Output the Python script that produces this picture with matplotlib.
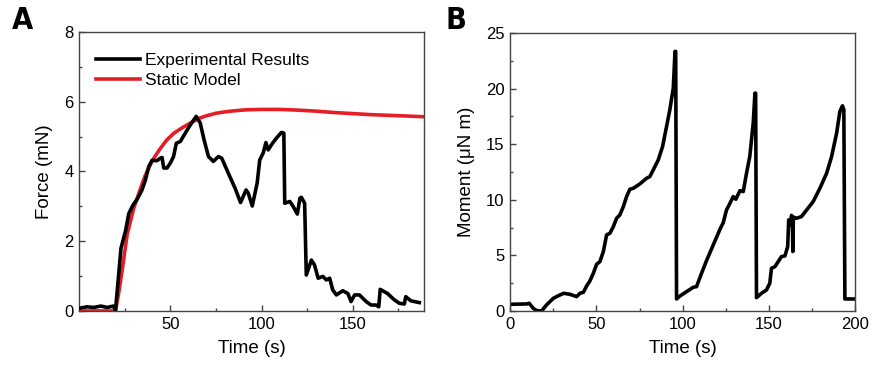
import matplotlib
matplotlib.use("Agg")
import matplotlib.pyplot as plt
from matplotlib.ticker import MultipleLocator, FixedLocator

plt.rcParams['font.family'] = ['Liberation Sans', 'DejaVu Sans']

# ---- Panel A data ----
exp_t = [0.4, 4.5, 8, 12, 15.5, 18.7, 20, 23, 25.5, 27.3, 29.6, 31.8, 34.5, 36.4, 38.2,
         40, 42.7, 44.5, 45.5, 46.4, 48.2, 50, 51.8, 53.3, 55.5, 58.2, 61, 64.2, 66.4,
         68.5, 70.9, 73.6, 76.4, 78.2, 81.8, 85.5, 88.5, 91.5, 92.7, 94.9, 97.6, 99,
         100.9, 102.4, 103.6, 106, 108.2, 110.9, 112.2, 112.7, 115.5, 117.3, 119.6, 121,
         121.8, 123.6, 124.5, 127.3, 129, 131, 133.6, 135.5, 137.3, 139, 141, 144.5,
         147.3, 149, 151, 153.6, 157.3, 160, 162.7, 164.2, 165, 169, 172.7, 175.5, 178.2,
         179, 181.8, 186.4]
exp_f = [0.08, 0.12, 0.1, 0.14, 0.1, 0.14, 0.03, 1.8, 2.3, 2.8, 3.04, 3.2, 3.47, 3.76, 4.14,
         4.32, 4.31, 4.38, 4.4, 4.1, 4.1, 4.24, 4.43, 4.81, 4.86, 5.1, 5.34, 5.58, 5.39,
         4.91, 4.43, 4.29, 4.43, 4.38, 3.95, 3.52, 3.11, 3.47, 3.38, 3.01, 3.67, 4.33,
         4.53, 4.83, 4.62, 4.81, 4.96, 5.12, 5.1, 3.09, 3.14, 3.0, 2.78, 3.23,
         3.26, 3.09, 1.03, 1.46, 1.32, 0.94, 0.99, 0.89, 0.94, 0.6, 0.46, 0.58,
         0.5, 0.27, 0.46, 0.46, 0.27, 0.17, 0.17, 0.12, 0.62, 0.5, 0.32, 0.22, 0.2,
         0.41, 0.29, 0.24]

model_t = [0, 20, 22, 24, 26.4, 30, 33.6, 36, 40, 44, 48, 52, 57, 62, 66, 70, 75, 80, 85,
           92, 100, 110, 120, 130, 140, 150, 160, 170, 180, 189]
model_f = [0, 0, 0.6, 1.3, 2.2, 2.95, 3.5, 3.85, 4.3, 4.62, 4.9, 5.1, 5.27, 5.42, 5.53, 5.6,
           5.67, 5.71, 5.74, 5.77, 5.78, 5.78, 5.76, 5.73, 5.69, 5.66, 5.63, 5.61, 5.59, 5.57]

# ---- Panel B data ----
mom_t = [0.4, 9.5, 11, 13.3, 15.3, 18.2, 21, 25, 28.8, 31, 34.6, 38.5, 40.4, 42.4, 44.3,
         46.2, 48.2, 50.1, 52, 54, 55.9, 57.8, 59.8, 61.7, 63.6, 65.6, 67.5, 69.4, 71.4,
         75.2, 79.1, 81, 83, 85.9, 88.4, 90.7, 92.6, 94.6, 95.6, 96, 96.5, 98.5, 102.3,
         106.2, 108.1, 111, 113.9, 117.8, 121.7, 123.6, 125.5, 127.5, 129.4, 130.9, 133.3,
         135.2, 137.1, 139, 141, 142, 142.4, 142.9, 145.8, 148.7, 150.6, 151.6, 153.6,
         155.5, 157.4, 159.4, 161.0, 161.6, 162.5, 163.2, 163.7, 164.0, 164.3, 166, 169,
         172, 175.8, 179.7, 183.6, 186.5, 189.4, 191.3, 192.8, 193.6, 194.2, 200]
mom_m = [0.6, 0.63, 0.69, 0.24, 0.03, 0.0, 0.54, 1.14, 1.44, 1.59, 1.5, 1.29, 1.59, 1.68, 2.25,
         2.7, 3.39, 4.2, 4.44, 5.34, 6.84, 6.99, 7.59, 8.34, 8.64, 9.39, 10.29, 10.95, 11.04,
         11.43, 11.94, 12.09, 12.7, 13.6, 14.8, 16.6, 18.1, 20.05, 23.35, 23.35, 1.08, 1.35, 1.74,
         2.13, 2.19, 3.39, 4.53, 5.94, 7.35, 7.95, 9.09, 9.69, 10.29, 10.05, 10.83,
         10.74, 12.39, 13.9, 16.9, 19.6, 19.6, 1.2, 1.59, 1.89, 2.49, 3.84, 3.99,
         4.44, 4.89, 4.95, 5.79, 8.2, 7.7, 8.6, 8.4, 5.35, 8.45, 8.34, 8.49,
         9.09, 9.84, 11.04, 12.39, 13.9, 16.0, 17.95, 18.46, 18.1, 1.08, 1.08]

fig = plt.figure(figsize=(8.75, 3.68), dpi=100)
axA = fig.add_axes([0.0903, 0.155, 0.3943, 0.758])
axB = fig.add_axes([0.5832, 0.155, 0.3938, 0.755])

spine_col = '#444444'
for ax in (axA, axB):
    for s in ax.spines.values():
        s.set_color(spine_col)
        s.set_linewidth(1.0)
    ax.tick_params(which='both', direction='in', top=False, right=False,
                   color=spine_col, labelsize=12, pad=4)
    ax.tick_params(which='major', length=4, width=1)
    ax.tick_params(which='minor', length=2.5, width=1)

axA.plot(exp_t, exp_f, color='black', lw=2.6, label='Experimental Results', zorder=3,
         solid_joinstyle='round')
axA.plot(model_t, model_f, color='#e41e26', lw=2.6, label='Static Model', zorder=2)
axA.set_xlim(0, 189)
axA.set_ylim(0, 8)
axA.xaxis.set_major_locator(FixedLocator([50, 100, 150]))
axA.xaxis.set_minor_locator(FixedLocator([25, 75, 125, 175]))
axA.yaxis.set_major_locator(MultipleLocator(2))
axA.yaxis.set_minor_locator(MultipleLocator(1))
axA.set_xlabel('Time (s)', fontsize=13.5, labelpad=6)
axA.set_ylabel('Force (mN)', fontsize=13.5, labelpad=8)
leg = axA.legend(loc='upper left', frameon=False, fontsize=12.5, handlelength=2.5,
                 handletextpad=0.3, borderaxespad=0.0, labelspacing=0.3,
                 bbox_to_anchor=(0.03, 0.95))

axB.plot(mom_t, mom_m, color='black', lw=2.6, solid_joinstyle='round')
axB.set_xlim(0, 200)
axB.set_ylim(0, 25)
axB.xaxis.set_major_locator(MultipleLocator(50))
axB.xaxis.set_minor_locator(MultipleLocator(25))
axB.yaxis.set_major_locator(MultipleLocator(5))
axB.yaxis.set_minor_locator(MultipleLocator(2.5))
axB.set_xlabel('Time (s)', fontsize=13.5, labelpad=6)
axB.set_ylabel('Moment (\u03bcN m)', fontsize=13.5, labelpad=8)

lab_kw = dict(fontsize=22, fontweight='bold', family=['DejaVu Sans'], stretch='condensed',
              va='top', ha='left')
fig.text(12 / 875, 1 - 6 / 368, 'A', **lab_kw)
fig.text(446 / 875, 1 - 6 / 368, 'B', **lab_kw)

fig.savefig('out.png', dpi=100)
